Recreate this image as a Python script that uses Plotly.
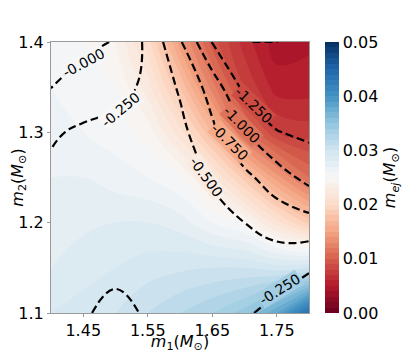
import plotly.graph_objects as go

# grid (solar masses)
m1 = [1.40, 1.45, 1.50, 1.55, 1.60, 1.65, 1.70, 1.75, 1.80]
m2 = [1.10, 1.15, 1.20, 1.25, 1.30, 1.35, 1.40]

# ejecta mass m_ej, one row per m2 value (bottom -> top)
mej = [
    [0.0290, 0.0295, 0.0300, 0.0310, 0.0320, 0.0330, 0.0345, 0.0380, 0.0440],
    [0.0280, 0.0285, 0.0290, 0.0295, 0.0298, 0.0300, 0.0300, 0.0295, 0.0300],
    [0.0275, 0.0278, 0.0280, 0.0280, 0.0275, 0.0260, 0.0248, 0.0215, 0.0185],
    [0.0270, 0.0270, 0.0265, 0.0260, 0.0250, 0.0225, 0.0185, 0.0145, 0.0110],
    [0.0265, 0.0260, 0.0255, 0.0245, 0.0215, 0.0170, 0.0115, 0.0080, 0.0075],
    [0.0260, 0.0255, 0.0250, 0.0225, 0.0180, 0.0125, 0.0080, 0.0055, 0.0055],
    [0.0255, 0.0250, 0.0240, 0.0205, 0.0145, 0.0095, 0.0065, 0.0045, 0.0048],
]

# quantity drawn with dashed contours
lvl = [
    [-0.36, -0.28, -0.17, -0.28, -0.34, -0.33, -0.28, -0.18, -0.10],
    [-0.36, -0.35, -0.32, -0.35, -0.36, -0.37, -0.38, -0.36, -0.27],
    [-0.34, -0.35, -0.36, -0.37, -0.40, -0.44, -0.50, -0.60, -0.66],
    [-0.30, -0.33, -0.35, -0.37, -0.41, -0.52, -0.69, -0.88, -1.08],
    [-0.22, -0.29, -0.32, -0.36, -0.43, -0.70, -0.97, -1.24, -1.30],
    [0.005, -0.10, -0.18, -0.29, -0.53, -0.85, -1.32, -1.42, -1.38],
    [0.12, 0.06, -0.015, -0.30, -0.72, -1.26, -1.499, -1.503, -1.38],
]

# contour labels (matplotlib clabel style)
label_text = ["-0.000", "-0.250", "-0.500", "-0.750", "-1.000", "-1.250", "-0.250"]
label_x = [1.450, 1.507, 1.641, 1.677, 1.696, 1.714, 1.755]
label_y = [1.377, 1.325, 1.251, 1.289, 1.308, 1.330, 1.127]
label_ang = [-28, -40, 54, 45, 46, 44, -32]

cbar_ticks = [0.00, 0.01, 0.02, 0.03, 0.04, 0.05]
x_ticks = [1.45, 1.55, 1.65, 1.75]
y_ticks = [1.1, 1.2, 1.3, 1.4]

rdbu = ["#67001f", "#b2182b", "#d6604d", "#f4a582", "#fddbc7", "#f7f7f7",
        "#d1e5f0", "#92c5de", "#4393c3", "#2166ac", "#053061"]
cscale = [[i / (len(rdbu) - 1), c] for i, c in enumerate(rdbu)]
ZMAX = 0.05

FONT = "DejaVu Sans"
msun = "(<i>M</i><sub>⊙</sub>)"


def mej_at(x, y):
    # bilinear lookup in the mej grid, used to blank the line under a label
    i = min(max(int((x - m1[0]) / (m1[1] - m1[0])), 0), len(m1) - 2)
    j = min(max(int((y - m2[0]) / (m2[1] - m2[0])), 0), len(m2) - 2)
    tx = (x - m1[i]) / (m1[i + 1] - m1[i])
    ty = (y - m2[j]) / (m2[j + 1] - m2[j])
    a = mej[j][i] * (1 - tx) + mej[j][i + 1] * tx
    b = mej[j + 1][i] * (1 - tx) + mej[j + 1][i + 1] * tx
    return a * (1 - ty) + b * ty


def color_at(v):
    f = min(max(v / ZMAX, 0), 1) * (len(rdbu) - 1)
    k = min(int(f), len(rdbu) - 2)
    t = f - k
    c0 = [int(rdbu[k][n:n + 2], 16) for n in (1, 3, 5)]
    c1 = [int(rdbu[k + 1][n:n + 2], 16) for n in (1, 3, 5)]
    c = [round(p * (1 - t) + q * t) for p, q in zip(c0, c1)]
    return f"rgb({c[0]},{c[1]},{c[2]})"


fig = go.Figure()

fig.add_trace(go.Contour(
    x=m1, y=m2, z=mej,
    colorscale=cscale, zmin=0, zmax=ZMAX,
    contours=dict(start=0, end=ZMAX, size=0.001, coloring="fill", showlines=False),
    line=dict(width=0, smoothing=1.3),
    colorbar=dict(
        x=1.062, xanchor="left", xpad=0, y=0.5, len=1, ypad=0, thickness=14,
        outlinewidth=0, tickvals=cbar_ticks, tickformat=".2f", ticklen=0,
        tickfont=dict(size=16, family=FONT, color="black"),
        title=dict(text="<i>m</i><sub><i>ej</i></sub>" + msun, side="right",
                   font=dict(size=16, family=FONT, color="black")),
    ),
    hoverinfo="skip",
))

fig.add_trace(go.Contour(
    x=m1, y=m2, z=lvl,
    showscale=False,
    contours=dict(start=-1.5, end=0.0, size=0.25, coloring="none", showlabels=False),
    line=dict(color="black", width=2.2, dash="8px,4px", smoothing=1.3),
    hoverinfo="skip",
))

for txt, lx, ly, ang in zip(label_text, label_x, label_y, label_ang):
    fig.add_annotation(
        x=lx, y=ly, text=txt, showarrow=False, textangle=ang,
        font=dict(size=14, family=FONT, color="black"),
        bgcolor=color_at(mej_at(lx, ly)), borderpad=0,
    )

axis_common = dict(
    showgrid=False, zeroline=False, showline=True, mirror=True, automargin=False,
    linecolor="#9a9a9a", linewidth=1, ticks="outside", ticklen=3,
    tickcolor="#9a9a9a", tickfont=dict(size=16, family=FONT, color="black"),
)

fig.update_xaxes(range=[1.4, 1.8], tickvals=x_ticks, ticktext=[f"{v:.2f}" for v in x_ticks],
                 title=dict(text="<i>m</i><sub>1</sub>" + msun, standoff=0,
                            font=dict(size=16, family=FONT, color="black")),
                 **axis_common)
fig.update_yaxes(range=[1.1, 1.4], tickvals=y_ticks, ticktext=[f"{v:.1f}" for v in y_ticks],
                 title=dict(text="<i>m</i><sub>2</sub>" + msun, standoff=4,
                            font=dict(size=16, family=FONT, color="black")),
                 **axis_common)

# the page body adds an 8px offset, so the figure is 8px smaller than the window
fig.update_layout(
    width=407, height=345,
    margin=dict(l=43, r=106, t=34, b=40),
    paper_bgcolor="white", plot_bgcolor="white",
    font=dict(family=FONT, color="black"),
    showlegend=False,
)

fig.write_html("out.html")
